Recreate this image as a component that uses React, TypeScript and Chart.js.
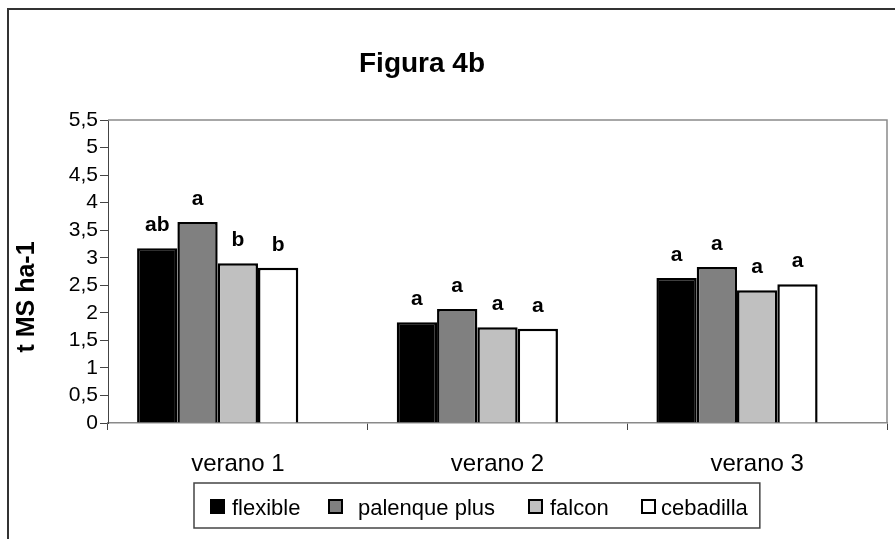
import React, { useEffect, useRef } from 'react';
import { Chart, registerables } from 'chart.js';

Chart.register(...registerables);

const FONT = '"Liberation Sans", Arial, Helvetica, sans-serif';

const titleText = 'Figura 4b';
const yAxisTitle = 't MS ha-1';
const categories = ['verano 1', 'verano 2', 'verano 3'];
const seriesNames = ['flexible', 'palenque plus', 'falcon', 'cebadilla'];
const seriesColors = ['#000000', '#808080', '#C0C0C0', '#FFFFFF'];

const flexible = [3.17, 1.83, 2.63];
const palenquePlus = [3.65, 2.07, 2.83];
const falcon = [2.9, 1.74, 2.41];
const cebadilla = [2.82, 1.71, 2.52];

const flexibleLetters = ['ab', 'a', 'a'];
const palenquePlusLetters = ['a', 'a', 'a'];
const falconLetters = ['b', 'a', 'a'];
const cebadillaLetters = ['b', 'a', 'a'];

const yMin = 0;
const yMax = 5.5;
const yStep = 0.5;

const seriesValues = [flexible, palenquePlus, falcon, cebadilla];
const seriesLetters = [flexibleLetters, palenquePlusLetters, falconLetters, cebadillaLetters];

const overlayPlugin = {
  id: 'overlay',
  afterDraw(chart: any) {
    const { ctx, chartArea } = chart;
    ctx.save();
    // plot area frame (top and right)
    ctx.strokeStyle = '#8a8a8a';
    ctx.lineWidth = 1.5;
    ctx.beginPath();
    ctx.moveTo(chartArea.left, chartArea.top);
    ctx.lineTo(chartArea.right, chartArea.top);
    ctx.lineTo(chartArea.right, chartArea.bottom);
    ctx.stroke();

    // significance letters
    ctx.fillStyle = '#000';
    ctx.font = `bold 21px ${FONT}`;
    ctx.textAlign = 'center';
    ctx.textBaseline = 'alphabetic';
    seriesLetters.forEach((letters, i) => {
      const meta = chart.getDatasetMeta(i);
      meta.data.forEach((bar: any, j: number) => {
        ctx.fillText(letters[j], bar.x, bar.y - 17);
      });
    });

    // title
    ctx.font = `bold 28px ${FONT}`;
    ctx.fillText(titleText, 422, 72);

    // y axis title
    ctx.save();
    ctx.translate(34, 297);
    ctx.rotate(-Math.PI / 2);
    ctx.font = `bold 25px ${FONT}`;
    ctx.fillText(yAxisTitle, 0, 0);
    ctx.restore();

    // legend
    const itemX = [210, 328, 528, 641];
    const textGap = [22, 30, 22, 20];
    const sq = 15;
    const sqTop = 499;
    ctx.font = `22px ${FONT}`;
    ctx.textAlign = 'left';
    let end = 0;
    seriesNames.forEach((name, i) => {
      ctx.fillStyle = seriesColors[i];
      ctx.fillRect(itemX[i], sqTop, sq, sq);
      ctx.strokeStyle = '#000';
      ctx.lineWidth = 2;
      ctx.strokeRect(itemX[i] + 1, sqTop + 1, sq - 2, sq - 2);
      ctx.fillStyle = '#000';
      const tx = itemX[i] + textGap[i];
      ctx.fillText(name, tx, 515);
      end = tx + ctx.measureText(name).width;
    });
    ctx.strokeStyle = '#444';
    ctx.lineWidth = 1.5;
    ctx.strokeRect(194, 483, end + 12 - 194, 45);
    ctx.restore();
  },
};

export default function App() {
  const canvasRef = useRef<HTMLCanvasElement | null>(null);

  useEffect(() => {
    if (!canvasRef.current) return;
    const datasets: any[] = seriesValues.map((vals, i) => ({
      label: seriesNames[i],
      data: vals,
      backgroundColor: seriesColors[i],
      borderColor: '#000000',
      borderWidth: 2.5,
      categoryPercentage: 0.776,
      barPercentage: 1,
    }));
    // empty fifth slot, as in the original chart layout
    datasets.push({
      label: '',
      data: categories.map(() => null),
      backgroundColor: 'transparent',
      borderWidth: 0,
      categoryPercentage: 0.776,
      barPercentage: 1,
    });

    const chart = new Chart(canvasRef.current, {
      type: 'bar',
      data: { labels: categories, datasets },
      plugins: [overlayPlugin],
      options: {
        responsive: false,
        animation: false,
        layout: { padding: { top: 120, right: 8, bottom: 0, left: 0 } },
        plugins: {
          legend: { display: false },
          title: { display: false },
          tooltip: { enabled: false },
        },
        scales: {
          x: {
            afterFit: (scale: any) => {
              scale.height = 116;
            },
            grid: {
              display: true,
              offset: true,
              drawOnChartArea: false,
              drawTicks: true,
              tickLength: 7,
              color: '#444',
            },
            border: { display: true, color: '#8a8a8a', width: 1.5 },
            ticks: {
              color: '#000',
              padding: 20,
              font: { family: FONT, size: 24 },
            },
          },
          y: {
            min: yMin,
            max: yMax,
            afterFit: (scale: any) => {
              scale.width = 108;
            },
            grid: {
              display: true,
              drawOnChartArea: false,
              drawTicks: true,
              tickLength: 8,
              color: '#444',
            },
            border: { display: true, color: '#444', width: 1 },
            ticks: {
              stepSize: yStep,
              autoSkip: false,
              color: '#000',
              padding: 2,
              font: { family: FONT, size: 21, lineHeight: 1 },
              callback: (v: any) => String(v).replace('.', ','),
            },
          },
        },
      },
    });
    return () => chart.destroy();
  }, []);

  return (
    <div style={{ position: 'absolute', left: 0, top: 0, width: 895, height: 539, background: '#fff' }}>
      <div
        style={{
          position: 'absolute',
          left: 7,
          top: 8,
          width: 888,
          height: 531,
          boxSizing: 'border-box',
          borderTop: '2px solid #333',
          borderLeft: '2px solid #333',
        }}
      />
      <canvas
        ref={canvasRef}
        width={895}
        height={539}
        style={{ position: 'absolute', left: 0, top: 0, width: 895, height: 539 }}
      />
    </div>
  );
}
